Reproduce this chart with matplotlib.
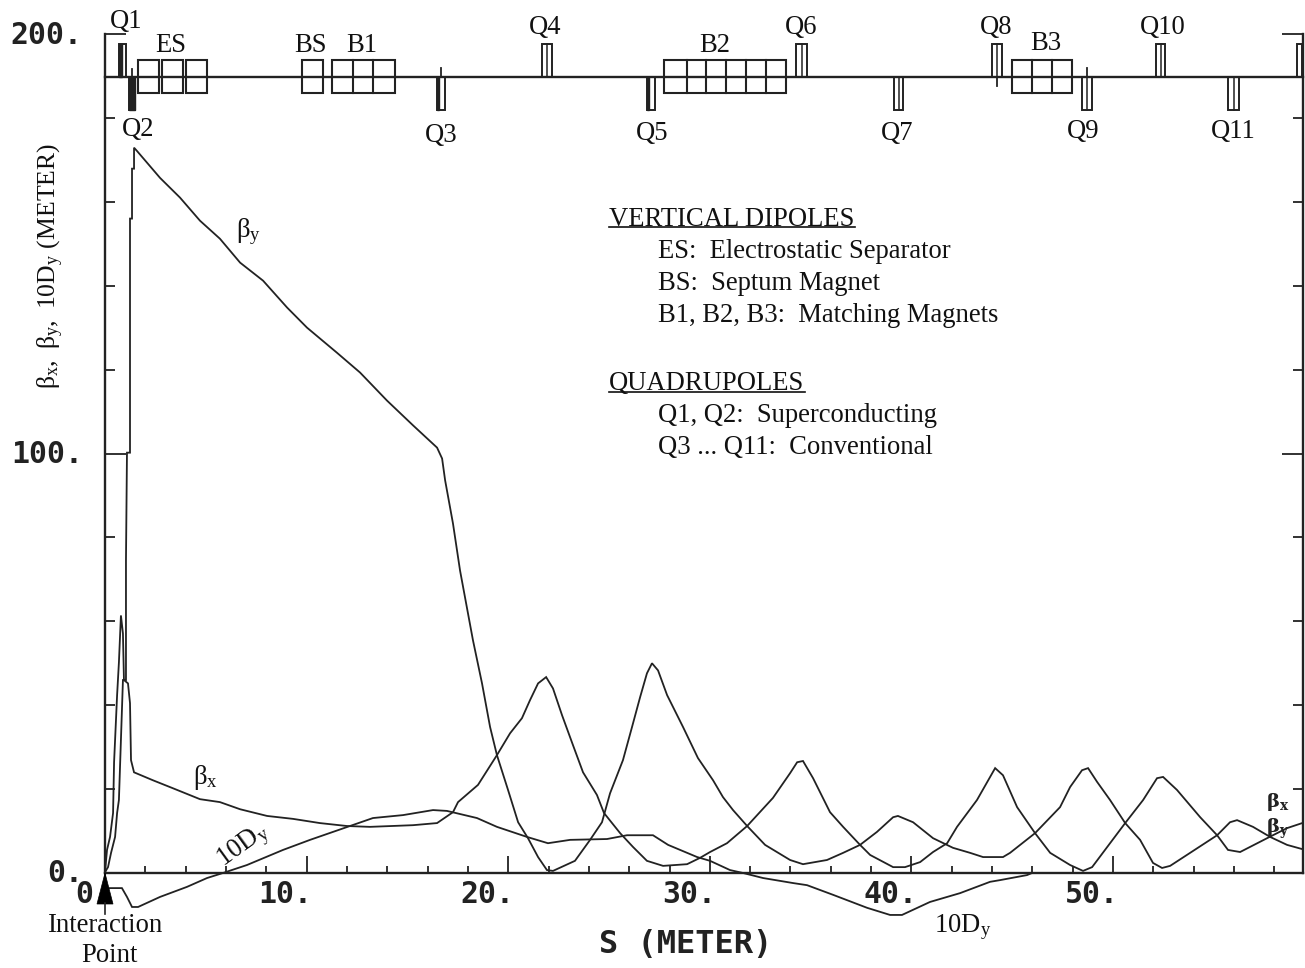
import matplotlib
matplotlib.use("Agg")
import matplotlib.pyplot as plt
from matplotlib.patches import Rectangle, Polygon
from matplotlib.transforms import Affine2D

plt.rcParams['font.family'] = ['Liberation Serif', 'DejaVu Serif']
plt.rcParams['mathtext.fontset'] = 'custom'
plt.rcParams['mathtext.rm'] = 'Liberation Serif'
plt.rcParams['mathtext.it'] = 'Liberation Serif'
plt.rcParams['mathtext.bf'] = 'Liberation Serif:bold'
plt.rcParams['mathtext.default'] = 'rm'

# ---- data -------------------------------------------------------------
s_by = [0, .15, .30, .50, .60, .69, .79, .89, 1.04, 1.04, 1.09, 1.24, 1.24, 1.34, 1.34, 1.44, 1.44, 1.59,
        2.73, 3.72, 4.71, 5.70, 6.70, 7.84, 9.03, 10.02, 11.51, 12.65, 13.99, 15.28, 16.47, 16.72, 16.87,
        17.26, 17.61, 18.25, 18.70, 19.10, 19.44, 19.99, 20.49, 20.98, 21.48, 21.92, 22.22, 23.31, 24.06,
        24.65, 25.05, 25.69, 26.14, 26.54, 26.88, 27.13, 27.43, 27.88, 28.67, 29.41, 30.16, 30.65, 31.15,
        31.85, 32.74, 33.98, 34.62, 35.81, 36.61, 37.45, 38.29, 39.09, 39.33, 40.08, 41.07, 42.06, 42.91,
        43.55, 44.54, 44.89, 46.13, 47.37, 47.87, 48.46, 48.76, 49.21, 49.85, 50.60, 51.34, 51.98, 52.43,
        52.83, 53.82, 55.16, 55.80, 56.15, 56.94, 57.79, 58.63, 59.38]
beta_y = [0.2, 1.4, 4.8, 8.6, 14.3, 17.4, 31.7, 46.0, 46.0, 74.5, 100.2, 100.2, 156.0, 156.0, 167.9, 167.9, 172.9, 172.1,
          165.7, 161.0, 155.5, 151.2, 145.5, 141.2, 134.8, 130.0, 124.0, 119.3, 112.6, 106.7, 101.4, 98.8, 93.6,
          83.3, 72.1, 55.5, 45.2, 34.8, 28.1, 19.8, 12.1, 8.3, 3.8, 0.7, 0.5, 2.9, 7.9,
          12.1, 19.0, 26.9, 34.8, 41.9, 47.6, 50.0, 48.3, 42.4, 34.8, 27.4, 22.1, 18.1, 15.0,
          11.2, 6.7, 3.1, 2.1, 3.1, 4.8, 6.7, 9.8, 13.3, 13.6, 12.1, 8.3, 6.0, 4.8,
          3.8, 3.8, 4.8, 9.5, 15.7, 20.5, 24.5, 25.0, 21.7, 17.4, 11.9, 7.9, 2.4, 1.2,
          1.7, 4.8, 9.0, 12.1, 12.6, 11.0, 8.6, 6.7, 5.7]

s_bx = [0, .10, .25, .40, .45, .60, .69, .79, .89, .94, 1.14, 1.24, 1.29, 1.44, 2.38, 3.37, 4.71, 5.70, 6.70,
        8.04, 9.33, 10.66, 12.0, 13.14, 15.28, 16.47, 17.26, 17.51, 18.50, 19.44, 20.09, 20.68, 21.08, 21.48,
        21.88, 22.22, 22.67, 23.21, 23.71, 24.40, 24.75, 25.55, 26.19, 26.88, 27.68, 28.87, 29.51, 30.01,
        30.85, 31.85, 33.13, 33.98, 34.33, 34.62, 35.12, 35.96, 36.61, 37.45, 37.95, 39.09, 39.68, 40.43,
        41.07, 41.77, 42.26, 43.25, 44.15, 44.54, 45.24, 46.13, 46.88, 47.87, 48.51, 48.96, 49.85, 50.60,
        51.49, 52.18, 52.48, 53.17, 54.32, 55.16, 55.70, 56.30, 57.64, 58.63, 59.38]
beta_x = [0.2, 5.5, 8.6, 14.3, 26.4, 42.4, 50.2, 61.4, 57.1, 46.0, 45.2, 40.5, 26.9, 24.0, 22.1, 20.2, 17.6, 16.9, 15.2,
          13.6, 12.9, 11.9, 11.2, 11.0, 11.4, 11.9, 14.5, 16.9, 21.0, 28.1, 33.3, 36.9, 41.2, 45.2,
          46.7, 44.0, 37.6, 30.5, 24.0, 18.6, 14.3, 9.5, 6.2, 2.9, 1.7, 2.1, 3.6, 5.0,
          7.1, 11.2, 17.9, 23.8, 26.4, 26.7, 22.6, 14.5, 11.0, 6.7, 4.3, 1.4, 1.4, 2.6,
          5.0, 7.1, 11.0, 17.4, 25.0, 23.3, 15.7, 9.5, 4.8, 1.9, 0.5, 1.4, 7.1, 11.9,
          17.4, 22.6, 22.9, 19.8, 13.3, 9.0, 5.5, 5.0, 8.3, 10.7, 11.9]

s_dy = [0, 0, .84, 1.09, 1.34, 1.64, 2.73, 4.07, 5.06, 5.85, 7.04, 8.83, 10.17, 11.31, 12.15, 13.29, 14.78,
        16.27, 16.96, 18.45, 19.44, 20.93, 21.97, 23.07, 24.90, 25.89, 27.18, 27.93, 29.37, 30.01, 31.0, 31.65,
        32.64, 34.13, 34.82, 36.11, 37.80, 38.94, 39.53, 40.92, 42.41, 43.90, 44.39, 45.73, 45.98, 47.02]
dy_10 = [0, -3.6, -3.6, -5.7, -8.1, -8.1, -5.7, -3.3, -1.2, 0, 1.9, 5.5, 7.9, 9.8, 11.2, 13.1, 13.8,
         15.0, 14.8, 13.1, 11.0, 8.6, 7.1, 7.9, 8.1, 9.0, 9.0, 6.7, 3.8, 2.9, 0.7, 0,
         -1.2, -2.4, -2.9, -5.2, -8.3, -10.0, -10.0, -6.9, -4.8, -2.1, -1.7, -0.5, 0, 0]

# dipole strings: cell edges along S
dipole_edges = [[1.64, 2.68], [2.83, 3.87], [4.02, 5.06], [9.77, 10.81],
                [11.26, 12.30, 13.29, 14.38],
                [27.73, 28.87, 29.81, 30.80, 31.80, 32.79, 33.78],
                [44.99, 45.98, 46.97, 47.97]]
# quadrupoles: start, end, upper(+1)/lower(-1)
quad_start = [.69, 1.19, 16.47, 21.68, 26.88, 34.28, 39.14, 44.0, 48.46, 52.13, 55.70, 59.13]
quad_end = [1.04, 1.49, 16.87, 22.17, 27.28, 34.82, 39.58, 44.49, 48.96, 52.58, 56.25, 59.38]
quad_side = [1, -1, -1, 1, -1, 1, -1, 1, -1, 1, -1, 1]
quad_fill = [0.45, 1.0, 0.3, 0, 0.3, 0, 0, 0, 0, 0, 0, 0]

xtick_major = [0, 10, 20, 30, 40, 50]
xtick_labels = ['0.', '10.', '20.', '30.', '40.', '50.']
xtick_minor = [2, 4, 6, 8, 12, 14, 16, 18, 22, 24, 26, 28, 32, 34, 36, 38, 42, 44, 46, 48, 52, 54, 56, 58]
ytick_major = [0, 100, 200]
ytick_labels = ['0.', '100.', '200.']
ytick_minor = [20, 40, 60, 80, 120, 140, 160, 180]

element_labels = [('Q1', 126, 22), ('ES', 171, 45), ('BS', 310, 45), ('B1', 362, 45), ('Q2', 138, 129),
                  ('Q3', 441, 135), ('Q4', 545, 28), ('Q5', 652, 133), ('B2', 715, 45), ('Q6', 801, 28),
                  ('Q7', 897, 133), ('Q8', 996, 27), ('B3', 1046, 43), ('Q9', 1083, 132), ('Q10', 1163, 28),
                  ('Q11', 1233, 132)]
notes = [('VERTICAL DIPOLES', 609, 219), ('ES:  Electrostatic Separator', 658, 251),
         ('BS:  Septum Magnet', 658, 283), ('B1, B2, B3:  Matching Magnets', 658, 315),
         ('QUADRUPOLES', 609, 383), ('Q1, Q2:  Superconducting', 658, 416),
         ('Q3 ... Q11:  Conventional', 658, 448)]

# ---- figure -----------------------------------------------------------
W, H = 1305, 968
fig = plt.figure(figsize=(W / 100, H / 100), dpi=100, facecolor='white')
ax = fig.add_axes([105 / W, (H - 873) / H, (1303 - 105) / W, (873 - 34) / H])
ax.set_xlim(0, 59.42)
ax.set_ylim(0, 200)
px = Affine2D().scale(1, -1).translate(0, H)   # annotation placement in image pixels

INK = '#222222'
LW = 1.3
for x, y in ((s_by, beta_y), (s_bx, beta_x), (s_dy, dy_10)):
    ax.plot(x, y, color=INK, lw=LW, clip_on=False, zorder=3, solid_joinstyle='miter')

ax.spines['top'].set_visible(False)
for side in ('left', 'right', 'bottom'):
    ax.spines[side].set_linewidth(1.7)
    ax.spines[side].set_color(INK)

TICKFONT = dict(family='DejaVu Sans Mono', fontweight='bold', fontsize=21.5)
ax.set_xticks(xtick_major, xtick_labels, ha='right', **TICKFONT)
ax.set_xticks(xtick_minor, minor=True)
ax.set_yticks(ytick_major, ytick_labels, **TICKFONT)
ax.set_yticks(ytick_minor, minor=True)
ax.tick_params(axis='x', which='major', direction='in', length=12.5, width=1.3, pad=5, color=INK, labelcolor=INK)
ax.tick_params(axis='x', which='minor', direction='in', length=5, width=1.3, color=INK)
ax.tick_params(axis='y', which='major', direction='in', length=15, width=1.3, pad=16, right=True, color=INK, labelcolor=INK)
ax.tick_params(axis='y', which='minor', direction='in', length=7, width=1.3, right=True, color=INK)
for lab in ax.get_xticklabels():
    lab.set_transform(lab.get_transform() + Affine2D().translate(6, 0))
for lab in ax.get_yticklabels():
    lab.set_transform(lab.get_transform() + Affine2D().translate(0, 2))

# beamline
BEAM, Q_H, D_H = 189.8, 7.85, 3.93
ax.plot([0, 59.42], [BEAM, BEAM], color=INK, lw=1.7, zorder=4, clip_on=False)
for cells in dipole_edges:
    ax.add_patch(Rectangle((cells[0], BEAM - D_H), cells[-1] - cells[0], 2 * D_H, fill=False, ec=INK, lw=1.5, zorder=4))
    for e in cells[1:-1]:
        ax.plot([e, e], [BEAM - D_H, BEAM + D_H], color=INK, lw=1.5, zorder=4)
for a, b, sd, f in zip(quad_start, quad_end, quad_side, quad_fill):
    y0 = BEAM if sd > 0 else BEAM - Q_H
    ax.add_patch(Rectangle((a, y0), b - a, Q_H, fill=False, ec=INK, lw=1.4, zorder=4))
    if f:
        ax.add_patch(Rectangle((a, y0), (b - a) * f, Q_H, fc=INK, ec=INK, lw=1, zorder=4))
    elif b - a > 0.3:
        m = (a + b) / 2
        ax.plot([m, m], [y0, y0 + Q_H], color=INK, lw=1.1, zorder=4)
# alignment whiskers on Q2, Q3, Q8, Q9
for m, lo, hi in [(1.34, 189.8, 191.7), (16.67, 189.8, 191.9), (44.25, 187.6, 189.8), (48.71, 189.8, 191.9)]:
    ax.plot([m, m], [lo, hi], color=INK, lw=1.3, zorder=4)

SERIF = dict(family='Liberation Serif', fontsize=19.2, color='#111111', transform=px, clip_on=False)
for t, x, y in element_labels:
    ax.text(x, y, t, ha='center', va='center', **SERIF)
for t, x, y in notes:
    ax.text(x, y, t, ha='left', va='center', **SERIF)
ax.plot([609, 855], [227, 227], color='#111111', lw=1.2, transform=px, clip_on=False)
ax.plot([609, 805], [392, 392], color='#111111', lw=1.2, transform=px, clip_on=False)

ax.text(248, 232, r'$\mathrm{β_y}$', ha='center', va='center', **SERIF)
ax.text(205, 777, r'$\mathrm{β_x}$', ha='center', va='center', **SERIF)
ax.text(243, 846, r'$\mathrm{10D_y}$', ha='center', va='center', rotation=36, **SERIF)
ax.text(963, 927, r'$\mathrm{10D_y}$', ha='center', va='center', **SERIF)
ax.text(106, 925, 'Interaction', ha='center', va='center', **SERIF)
ax.text(109, 956, 'Point', ha='center', va='center', **SERIF)
YL = dict(SERIF, fontsize=18.5)
ax.text(51, 266, r'$\mathrm{β_x,\ β_y,\ 10D_y\ (METER)}$', ha='center', va='center', rotation=90, **YL)

ax.text(686, 944, 'S (METER)', ha='center', va='center', family='DejaVu Sans Mono', fontweight='bold',
        fontsize=23, color=INK, transform=px, clip_on=False)
SMALL = dict(fontsize=14, color=INK, ha='center', va='center', transform=px, clip_on=False,
             math_fontfamily='dejavuserif')
ax.text(1278, 802, r'$\mathbf{β_x}$', **SMALL)
ax.text(1278, 829, r'$\mathbf{β_y}$', **SMALL)

# interaction-point arrow
ax.add_patch(Polygon([(105, 873), (97, 904), (113, 904)], closed=True, fc='black', ec='black', lw=0.5,
                     transform=px, clip_on=False, zorder=6))
ax.plot([105, 105], [903, 914], color=INK, lw=1.2, transform=px, clip_on=False, zorder=6)

fig.savefig('out.png', dpi=100, facecolor='white')
